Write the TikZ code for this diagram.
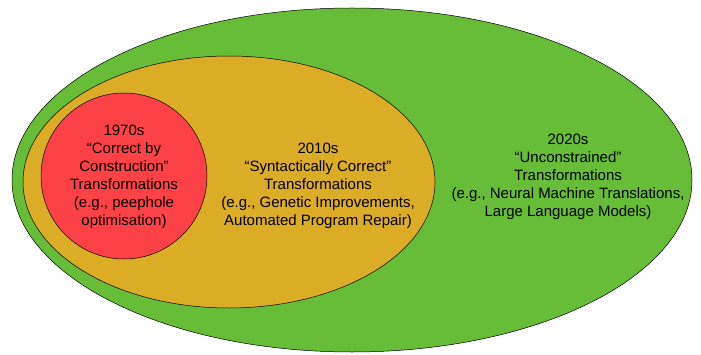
\documentclass[tikz,border=0pt]{standalone}
\usepackage{fontspec}
\setmainfont{Liberation Sans}
\definecolor{eragreen}{RGB}{103,189,56}
\definecolor{eraorange}{RGB}{219,172,38}
\definecolor{erared}{RGB}{252,66,70}
\begin{document}
\begin{tikzpicture}[x=1pt,y=1pt,
  era/.style={draw=black, line width=0.5pt},
  label/.style={align=center, font=\fontsize{15}{18}\selectfont}]
\useasboundingbox (0,0) rectangle (701,354);

\draw[era, fill=eragreen] (352,174) ellipse [x radius=340, y radius=172];
\draw[era, fill=eraorange] (229,172) ellipse [x radius=206, y radius=126];
\draw[era, fill=erared] (124,178) circle [radius=83];

\node[label] (seventies) at (124,177) {1970s\\“Correct by\\Construction”\\Transformations\\(e.g., peephole\\optimisation)};
\node[label] (tens) at (318,168) {2010s\\“Syntactically Correct”\\Transformations\\(e.g., Genetic Improvements,\\Automated Program Repair)};
\node[label] (twenties) at (568,177) {2020s\\“Unconstrained”\\Transformations\\(e.g., Neural Machine Translations,\\Large Language Models)};

\end{tikzpicture}
\end{document}
